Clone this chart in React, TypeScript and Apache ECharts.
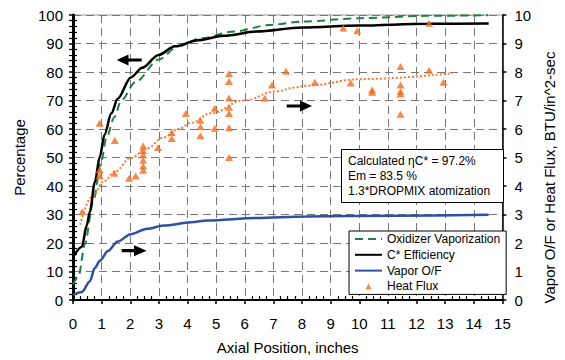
import React, { useEffect, useRef } from "react";
import * as echarts from "echarts";

// ---- data ----
const xTickMax = 15;
const leftMax = 100;
const rightMax = 10;

// Oxidizer Vaporization (%), left axis
const oxVap: [number, number][] = [
  [0, 5.4], [0.19, 8.3], [0.42, 19.8], [0.7, 34.5], [0.99, 48.7], [1.16, 56.7],
  [1.45, 64.2], [1.68, 70], [2.19, 76.5], [2.99, 84.4], [3.67, 89], [4.47, 91.8],
  [5.62, 94.2], [6.87, 96.5], [8.0, 97.7], [10.07, 98.9], [12.35, 99.7], [14.5, 99.9],
];

// C* Efficiency (%), left axis
const cStar: [number, number][] = [
  [0, 15], [0.31, 18.7], [0.48, 26.2], [0.59, 31], [0.76, 41.2], [0.94, 50.4],
  [1.1, 58], [1.34, 65.5], [1.56, 70.6], [2.02, 78.1], [2.42, 81.5], [2.99, 86],
  [3.56, 89], [4.36, 91.1], [5.27, 92.7], [6.41, 94.2], [8.01, 95.6], [10, 96.3],
  [12.35, 96.9], [14.52, 97.0],
];

// Vapor O/F, right axis
const vaporOF: [number, number][] = [
  [0, 0.18], [0.31, 0.28], [0.59, 0.66], [0.76, 1.12], [0.94, 1.38], [1.22, 1.72],
  [1.56, 2.05], [2.02, 2.31], [2.59, 2.5], [3.16, 2.61], [4.13, 2.73], [4.7, 2.79],
  [6.41, 2.88], [8.13, 2.93], [11.2, 2.96], [14.52, 2.99],
];

// Heat Flux measurements, right axis
const heatFlux: [number, number][] = [
  [0.32, 3.1], [0.93, 6.2], [0.93, 4.57], [0.93, 4.36], [1.46, 5.6], [1.45, 4.45],
  [1.96, 4.27], [2.19, 4.35], [2.45, 5.4], [2.45, 5.25], [2.45, 5.1], [2.45, 4.9],
  [2.45, 4.7], [2.45, 4.55], [2.97, 5.35], [3.45, 5.88], [3.45, 5.67], [3.94, 6.54],
  [4.45, 6.31], [4.45, 6.08], [4.45, 5.76], [4.95, 6.73], [4.95, 6.03], [5.45, 7.94],
  [5.45, 7.67], [5.45, 7.09], [5.45, 6.76], [5.45, 6.54], [5.45, 6.04], [5.45, 5.0],
  [6.7, 7.08], [6.95, 7.54], [7.44, 8.03], [8.45, 7.64], [9.44, 9.54], [9.93, 9.45],
  [9.7, 7.61], [10.45, 7.37], [10.45, 7.29], [11.44, 8.19], [11.44, 7.54],
  [11.44, 7.32], [11.44, 7.23], [11.44, 6.52], [12.44, 8.06], [12.44, 9.71],
  [12.94, 7.64],
];

// Heat Flux trend line (dotted), right axis
const heatFluxTrend: [number, number][] = [
  [0.25, 2.64], [0.65, 3.6], [1.1, 4.18], [1.45, 4.5], [2.02, 4.98], [2.59, 5.33],
  [3.16, 5.7], [3.68, 6.0], [4.13, 6.22], [4.82, 6.55], [5.96, 7.0], [7.1, 7.32],
  [7.78, 7.46], [8.13, 7.52], [10.07, 7.75], [13.26, 7.96],
];

const legendNames = ["Oxidizer Vaporization", "C* Efficiency", "Vapor O/F", "Heat Flux"];
const noteLines = ["Calculated \u03b7C* = 97.2%", "Em = 83.5 %", "1.3*DROPMIX atomization"];

const FONT = "'Liberation Sans', Arial, sans-serif";
const GREEN = "#1d8040";
const BLUE = "#2f4fa2";
const ORANGE = "#f26b1d";

export default function App() {
  const ref = useRef<HTMLDivElement>(null);

  useEffect(() => {
    if (!ref.current) return;
    const chart = echarts.init(ref.current, undefined, { renderer: "svg" });

    const gridDash = { color: "#777", width: 1, type: [8, 5] as number[] };
    const axisLabel = { fontFamily: FONT, fontSize: 15, color: "#000" };
    const hiddenSymbol = { color: "rgba(0,0,0,0)", borderWidth: 0, opacity: 0 };

    const arrow = (tip: number, base: number, tail: number, y: number, hh: number, sh: number) => {
      return {
        type: "polygon",
        z: 100,
        shape: {
          points: [
            [tip, y], [base, y - hh], [base, y - sh], [tail, y - sh],
            [tail, y + sh], [base, y + sh], [base, y + hh],
          ],
        },
        style: { fill: "#000" },
      };
    };

    chart.setOption({
      animation: false,
      backgroundColor: "#fff",
      textStyle: { fontFamily: FONT },
      grid: {
        left: 73, right: 54, top: 15, bottom: 56,
        show: true, borderColor: "#999", borderWidth: 1, backgroundColor: "transparent",
      },
      legend: {
        data: [
          { name: legendNames[0], itemStyle: hiddenSymbol },
          { name: legendNames[1], itemStyle: hiddenSymbol },
          { name: legendNames[2], itemStyle: hiddenSymbol },
          { name: legendNames[3], icon: "path://M0,0M27,12M10.5,9.2L16.5,9.2L13.5,3.2Z" },
        ],
        orient: "vertical",
        left: 349,
        top: 231,
        itemWidth: 27,
        itemHeight: 12,
        itemGap: 3.8,
        padding: [2, 6, 2, 5],
        borderColor: "#000",
        borderWidth: 1,
        borderRadius: 0,
        backgroundColor: "#fff",
        textStyle: { fontFamily: FONT, fontSize: 12, color: "#000" },
        selectedMode: false,
        z: 10,
      },
      xAxis: [
        {
          type: "value", min: 0, max: xTickMax, interval: 1,
          name: "Axial Position, inches", nameLocation: "middle", nameGap: 40,
          nameTextStyle: { fontFamily: FONT, fontSize: 15, color: "#000" },
          axisLine: { show: true, onZero: false, lineStyle: { color: "#000", width: 2 } },
          axisTick: { show: true, length: 4, lineStyle: { color: "#000", width: 1.5 } },
          axisLabel: { ...axisLabel, margin: 16 },
          splitLine: { show: true, lineStyle: gridDash },
        },
        {
          type: "value", min: 0, max: xTickMax, interval: 1, position: "bottom",
          axisLine: { show: false },
          axisTick: { show: false, inside: true },
          axisLabel: { show: false },
          splitLine: { show: false },
          minorTick: { show: true, splitNumber: 4, length: 4, lineStyle: { color: "#000", width: 1.2 } },
        },
      ],
      yAxis: [
        {
          type: "value", min: 0, max: leftMax, interval: 10, position: "left",
          name: "Percentage", nameLocation: "middle", nameGap: 44,
          nameTextStyle: { fontFamily: FONT, fontSize: 15, color: "#000" },
          axisLine: { show: true, onZero: false, lineStyle: { color: "#000", width: 3 } },
          axisTick: { show: true, length: 4, lineStyle: { color: "#000", width: 1.5 } },
          axisLabel: { ...axisLabel, margin: 10 },
          splitLine: { show: true, lineStyle: gridDash },
        },
        {
          type: "value", min: 0, max: rightMax, interval: 1, position: "right",
          name: "Vapor O/F or Heat Flux, BTU/in^2-sec", nameLocation: "middle", nameGap: 38,
          nameTextStyle: { fontFamily: FONT, fontSize: 15, color: "#000", padding: [0, 40, 0, 0] },
          axisLine: { show: true, onZero: false, lineStyle: { color: "#000", width: 1.5 } },
          axisTick: { show: true, length: 4, lineStyle: { color: "#000", width: 1.5 } },
          axisLabel: { ...axisLabel, margin: 12 },
          splitLine: { show: false },
        },
        {
          type: "value", min: 0, max: leftMax, interval: 10, position: "left",
          axisLine: { show: false }, axisTick: { show: false, inside: true },
          axisLabel: { show: false }, splitLine: { show: false },
          minorTick: { show: true, splitNumber: 5, length: 4, lineStyle: { color: "#000", width: 1.2 } },
        },
        {
          type: "value", min: 0, max: rightMax, interval: 1, position: "right",
          axisLine: { show: false }, axisTick: { show: false, inside: true },
          axisLabel: { show: false }, splitLine: { show: false },
          minorTick: { show: true, splitNumber: 5, length: 4, lineStyle: { color: "#000", width: 1.2 } },
        },
      ],
      series: [
        {
          name: legendNames[0], type: "line", data: oxVap, yAxisIndex: 0,
          symbol: "none", smooth: 0.3, smoothMonotone: "x",
          lineStyle: { color: GREEN, width: 2, type: [8, 5] }, itemStyle: { color: GREEN }, z: 3,
        },
        {
          name: legendNames[1], type: "line", data: cStar, yAxisIndex: 0,
          symbol: "none", smooth: 0.3, smoothMonotone: "x",
          lineStyle: { color: "#000", width: 2.5 }, itemStyle: { color: "#000" }, z: 4,
        },
        {
          name: legendNames[2], type: "line", data: vaporOF, yAxisIndex: 1,
          symbol: "none", smooth: 0.3, smoothMonotone: "x",
          lineStyle: { color: BLUE, width: 2.5 }, itemStyle: { color: BLUE }, z: 4,
        },
        {
          name: "Heat Flux Trend", type: "line", data: heatFluxTrend, yAxisIndex: 1,
          symbol: "none", smooth: 0.4, smoothMonotone: "x",
          lineStyle: { color: "#f47a36", width: 2, type: [2, 2] }, z: 3,
        },
        {
          name: legendNames[3], type: "scatter", data: heatFlux, yAxisIndex: 1,
          symbol: "triangle", symbolSize: [8, 7],
          itemStyle: { color: ORANGE }, z: 5,
        },
      ],
      graphic: [
        {
          type: "rect", z: 100,
          shape: { x: 341.5, y: 149.5, width: 162, height: 53 },
          style: { fill: "#fff", stroke: "#000", lineWidth: 1 },
        },
        ...noteLines.map((t, i) => ({
          type: "text", z: 101, x: 348, y: [161, 175.5, 190.5][i],
          style: { text: t, font: `12px ${FONT}`, fill: "#000", verticalAlign: "middle" },
        })),
        arrow(116.7, 128.5, 141.7, 60, 5.5, 1.6),
        arrow(312, 300, 286.7, 106, 5.5, 1.6),
        arrow(146.7, 134, 121.7, 250.7, 5.5, 1.6),
      ],
    });

    return () => chart.dispose();
  }, []);

  return (
    <div
      ref={ref}
      style={{ position: "fixed", left: 0, top: 0, width: 565, height: 360 }}
    />
  );
}
